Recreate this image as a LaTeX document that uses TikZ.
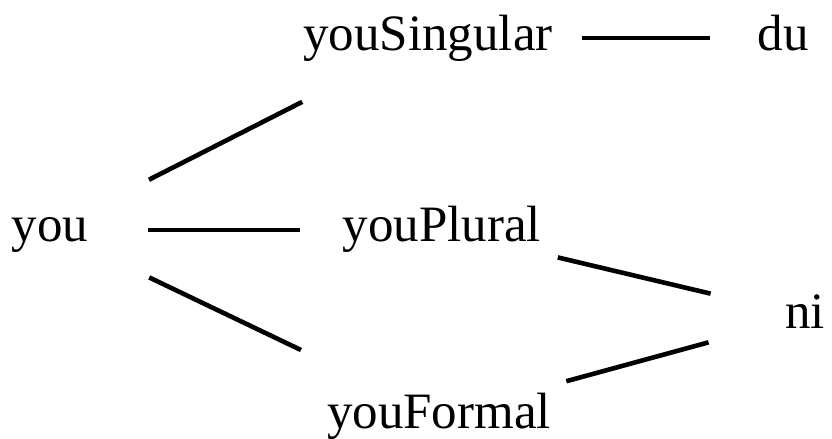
\documentclass[tikz,border=0pt]{standalone}
\usepackage{fontspec}
\setmainfont{Liberation Serif}
\usepackage{tikz}

\begin{document}
\begin{tikzpicture}[x = 0.5pt, y = -0.5pt]
% Node styles ---
\tikzstyle{word} = [inner sep = 0pt, text height = 16pt, text depth = 4pt, font = \fontsize{25.5}{30}\selectfont] % Words
% Edge styles
\tikzstyle{lnk} = [line width = 2.3pt, draw = black] % Links
% Begin Figure ---
\useasboundingbox (0,0) rectangle (832,439);
% Nodes
\node at (50,230) [word] (you) {you};
\node at (428,38) [word] (ys) {youSingular};
\node at (442,230) [word] (yp) {youPlural};
\node at (439,416) [word] (yf) {youFormal};
\node at (783,38) [word] (du) {du};
\node at (805,316) [word] (ni) {ni};
% Paths
\path (you.center) edge [lnk, shorten <= 55.5pt, shorten >= 70.5pt] (ys.center);
\path (you.center) edge [lnk, shorten <= 49pt, shorten >= 71pt] (yp.center);
\path (you.center) edge [lnk, shorten <= 55pt, shorten >= 76.5pt] (yf.center);
\path (ys.center) edge [lnk, shorten <= 77pt, shorten >= 36.5pt] (du.center);
\path (yp.center) edge [lnk, shorten <= 59.5pt, shorten >= 48.5pt] (ni.center);
\path (yf.center) edge [lnk, shorten <= 66pt, shorten >= 50pt] (ni.center);
\end{tikzpicture}
\end{document}
